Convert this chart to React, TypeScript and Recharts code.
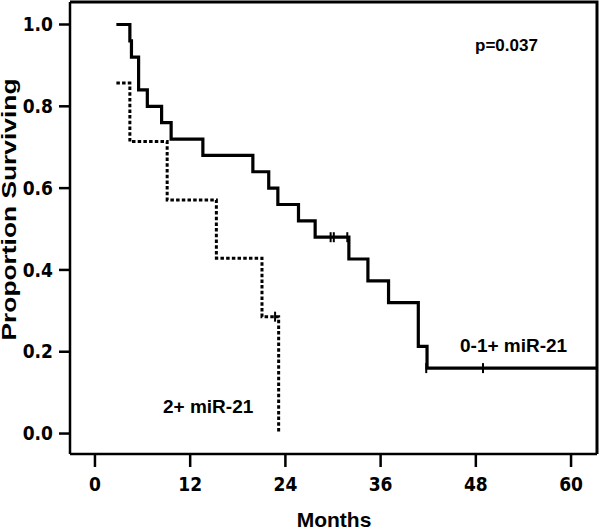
import { ComposedChart, Line, Scatter, XAxis, YAxis } from "recharts"

// Kaplan-Meier steps: 0-1+ miR-21 (solid)
const SOLID_T = [2.7, 4.4, 4.6, 5.5, 6.6, 8.4, 9.6, 13.6, 19.9, 21.9, 23.05, 25.65, 27.75, 32.0, 34.4, 37.0, 40.75, 41.85, 63.27]
const SOLID_S = [1.0, 0.96, 0.92, 0.84, 0.8, 0.76, 0.72, 0.68, 0.64, 0.6, 0.56, 0.52, 0.48, 0.4267, 0.3733, 0.32, 0.2133, 0.16, 0.16]
const SOLID_CENSOR_T = [29.7, 30.1, 31.8, 41.75, 48.9]
const SOLID_CENSOR_S = [0.48, 0.48, 0.48, 0.16, 0.16]

// 2+ miR-21 (dotted)
const DOT_T = [2.7, 4.4, 9.1, 15.3, 21.05, 23.15]
const DOT_S = [0.857, 0.714, 0.571, 0.4286, 0.2857, 0]
const DOT_CENSOR_T = [22.7]
const DOT_CENSOR_S = [0.2857]

const X_TICKS = [0, 12, 24, 36, 48, 60]
const Y_TICKS = [0, 0.2, 0.4, 0.6, 0.8, 1.0]
const X_DOMAIN: [number, number] = [-3.145, 63.27]
const Y_DOMAIN: [number, number] = [-0.05, 1.055]

const zip = (t: number[], s: number[]) => t.map((v, i) => ({ t: v, s: s[i] }))

const solid = zip(SOLID_T, SOLID_S)
const solidCensor = zip(SOLID_CENSOR_T, SOLID_CENSOR_S)
const dotted = zip(DOT_T, DOT_S)
const dottedCensor = zip(DOT_CENSOR_T, DOT_CENSOR_S)

const NARROW = "'Liberation Sans Narrow', 'DejaVu Sans Condensed', sans-serif"
const SANS = "'Liberation Sans', Arial, sans-serif"

const tickStyle = { fontFamily: NARROW, fontWeight: 700, fontSize: 19, fill: "#000" }

// plot box (matches chart margins + axis sizes)
const W = 600, H = 529
const PLOT = { left: 70, top: 2, right: 597, bottom: 454 }

const CensorMark = (props: any) => {
  const { cx, cy } = props
  if (cx == null || cy == null) return null
  return <line x1={cx} x2={cx} y1={cy - 5} y2={cy + 5} stroke="#000" strokeWidth={2} />
}

export default function App() {
  return (
    <div style={{ position: "absolute", left: 0, top: 0, width: W, height: H, background: "#fff" }}>
      <ComposedChart
        width={W}
        height={H}
        margin={{ top: PLOT.top, right: W - PLOT.right, left: 0, bottom: 0 }}
      >
        <XAxis
          type="number"
          dataKey="t"
          domain={X_DOMAIN}
          allowDataOverflow
          ticks={X_TICKS}
          height={H - PLOT.bottom}
          tickSize={13}
          tickMargin={11}
          tick={tickStyle}
          stroke="#000"
          strokeWidth={2.5}
          interval={0}
        />
        <YAxis
          type="number"
          domain={Y_DOMAIN}
          allowDataOverflow
          ticks={Y_TICKS}
          width={PLOT.left}
          tickSize={11}
          tickMargin={6}
          tick={tickStyle}
          tickFormatter={(v: number) => v.toFixed(1)}
          stroke="#000"
          strokeWidth={2.5}
          interval={0}
        />
        <Line
          data={solid}
          dataKey="s"
          type="stepAfter"
          stroke="#000"
          strokeWidth={3.2}
          dot={false}
          isAnimationActive={false}
        />
        <Line
          data={dotted}
          dataKey="s"
          type="stepAfter"
          stroke="#000"
          strokeWidth={3}
          strokeDasharray="3.5 2.2"
          dot={false}
          isAnimationActive={false}
        />
        <Scatter data={solidCensor} dataKey="s" shape={<CensorMark />} isAnimationActive={false} />
        <Scatter data={dottedCensor} dataKey="s" shape={<CensorMark />} isAnimationActive={false} />
      </ComposedChart>
      <svg
        width={W}
        height={H}
        style={{ position: "absolute", left: 0, top: 0, pointerEvents: "none", zIndex: 2 }}
      >
        {/* frame: top and right edges */}
        <path
          d={`M${PLOT.left},${PLOT.top}H${PLOT.right}V${PLOT.bottom}`}
          fill="none"
          stroke="#000"
          strokeWidth={3}
        />
        <text x={475} y={51} fontFamily={SANS} fontWeight={700} fontSize={17} fill="#000">
          p=0.037
        </text>
        <text x={460} y={352} fontFamily={SANS} fontWeight={700} fontSize={19} fill="#000">
          0-1+ miR-21
        </text>
        <text x={163} y={413} fontFamily={SANS} fontWeight={700} fontSize={19} fill="#000">
          2+ miR-21
        </text>
        <text x={334} y={527} textAnchor="middle" fontFamily={SANS} fontWeight={700} fontSize={21} fill="#000">
          Months
        </text>
        <text
          x={0}
          y={0}
          transform="translate(16, 209.5) rotate(-90)"
          textAnchor="middle"
          fontFamily={SANS}
          fontWeight={700}
          fontSize={20}
          textLength={262}
          lengthAdjust="spacingAndGlyphs"
          fill="#000"
        >
          Proportion Surviving
        </text>
      </svg>
    </div>
  )
}
